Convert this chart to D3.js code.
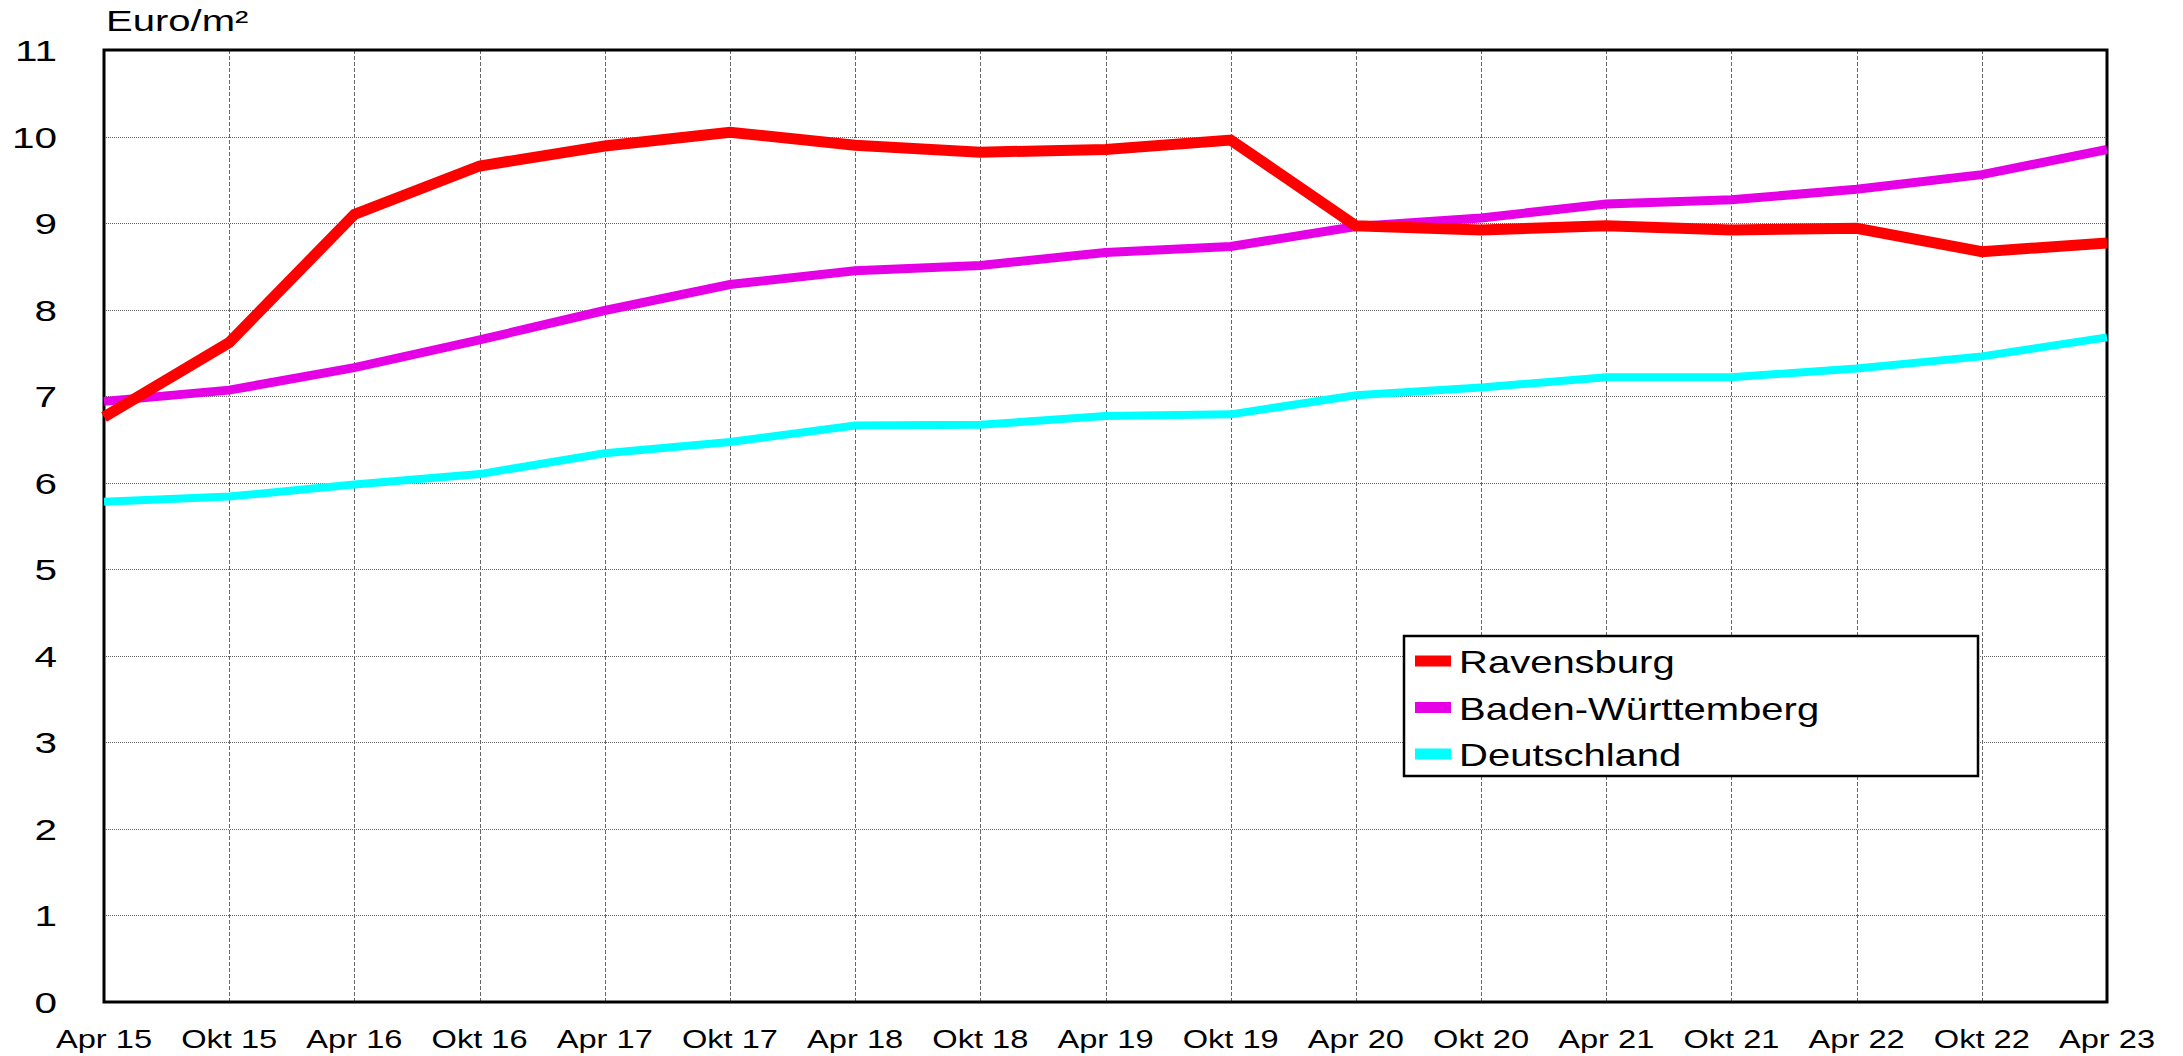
<!DOCTYPE html>
<html>
<head>
<meta charset="utf-8">
<script src="https://cdn.jsdelivr.net/npm/d3@7"></script>
<style>
  body { margin: 0; background: #fff; }
  svg { display: block; font-family: "Liberation Sans", Arial, sans-serif; }
</style>
</head>
<body>
<svg id="chart" width="2183" height="1056"></svg>
<script>
(function() {

    // labels along the x axis (half-year steps)
    var periods = ['Apr 15', 'Okt 15', 'Apr 16', 'Okt 16', 'Apr 17', 'Okt 17', 'Apr 18', 'Okt 18',
                   'Apr 19', 'Okt 19', 'Apr 20', 'Okt 20', 'Apr 21', 'Okt 21', 'Apr 22', 'Okt 22', 'Apr 23'];
    var yTicks = [0, 1, 2, 3, 4, 5, 6, 7, 8, 9, 10, 11];

    var ravensburg = [6.76, 7.62, 9.10, 9.66, 9.89, 10.05, 9.90, 9.82, 9.85, 9.96, 8.97,
                      8.92, 8.97, 8.92, 8.94, 8.67, 8.77];
    var badenWuerttemberg = [6.94, 7.07, 7.33, 7.65, 7.99, 8.29, 8.45, 8.51, 8.66, 8.73, 8.96,
                             9.06, 9.22, 9.27, 9.39, 9.56, 9.85];
    var deutschland = [5.78, 5.84, 5.98, 6.10, 6.34, 6.47, 6.66, 6.67, 6.77, 6.79, 7.01,
                       7.10, 7.22, 7.22, 7.32, 7.46, 7.68];

    var seriesNames = ['Ravensburg', 'Baden-Württemberg', 'Deutschland'];

    var series = [
        { name: seriesNames[0], values: ravensburg, colour: '#ff0000', width: 11 },
        { name: seriesNames[1], values: badenWuerttemberg, colour: '#e600e6', width: 9 },
        { name: seriesNames[2], values: deutschland, colour: '#00ffff', width: 8 }
    ];

    var left = 104, right = 2107, top = 50, bottom = 1002;

    var svg = d3.select('#chart');

    var x = d3.scalePoint()
        .domain(periods)
        .range([left, right]);

    var y = d3.scaleLinear()
        .domain([0, 11])
        .range([bottom, top]);

    // grid
    svg.append('g')
        .attr('shape-rendering', 'crispEdges')
        .selectAll('line')
        .data(yTicks.slice(1, -1))
        .enter().append('line')
        .attr('x1', left).attr('x2', right)
        .attr('y1', function(d) { return Math.round(y(d)) + 0.5; })
        .attr('y2', function(d) { return Math.round(y(d)) + 0.5; })
        .attr('stroke', '#666')
        .attr('stroke-width', 1)
        .attr('stroke-dasharray', '1,1');

    svg.append('g')
        .attr('shape-rendering', 'crispEdges')
        .selectAll('line')
        .data(periods.slice(1, -1))
        .enter().append('line')
        .attr('x1', function(d) { return Math.round(x(d)) + 0.5; })
        .attr('x2', function(d) { return Math.round(x(d)) + 0.5; })
        .attr('y1', top).attr('y2', bottom)
        .attr('stroke', '#666')
        .attr('stroke-width', 1)
        .attr('stroke-dasharray', '4,2');

    // frame
    svg.append('rect')
        .attr('x', left).attr('y', top)
        .attr('width', right - left).attr('height', bottom - top)
        .attr('fill', 'none')
        .attr('stroke', '#000')
        .attr('stroke-width', 3);

    // y tick labels (stretched horizontally like the original)
    svg.append('g')
        .selectAll('text')
        .data(yTicks)
        .enter().append('text')
        .attr('transform', function(d) { return 'translate(57,' + (y(d) + 11) + ') scale(1.35,1)'; })
        .attr('text-anchor', 'end')
        .attr('font-size', 30)
        .text(function(d) { return d; });

    // x tick labels
    svg.append('g')
        .selectAll('text')
        .data(periods)
        .enter().append('text')
        .attr('transform', function(d) { return 'translate(' + x(d) + ',1048) scale(1.28,1)'; })
        .attr('text-anchor', 'middle')
        .attr('font-size', 25.5)
        .text(function(d) { return d; });

    // unit
    svg.append('text')
        .attr('transform', 'translate(106,31) scale(1.38,1)')
        .attr('font-size', 29)
        .text('Euro/m²');

    // lines
    var line = d3.line()
        .x(function(d, i) { return x(periods[i]); })
        .y(function(d) { return y(d); });

    svg.append('g')
        .selectAll('path')
        .data(series.slice().reverse())
        .enter().append('path')
        .attr('d', function(d) { return line(d.values); })
        .attr('fill', 'none')
        .attr('stroke', function(d) { return d.colour; })
        .attr('stroke-width', function(d) { return d.width; })
        .attr('stroke-linejoin', 'miter');

    // legend
    var legend = svg.append('g');
    legend.append('rect')
        .attr('x', 1404).attr('y', 636)
        .attr('width', 574).attr('height', 140)
        .attr('fill', '#fff')
        .attr('stroke', '#000')
        .attr('stroke-width', 2.5);

    var items = legend.selectAll('g.item')
        .data(series)
        .enter().append('g')
        .attr('class', 'item')
        .attr('transform', function(d, i) { return 'translate(1415,' + (661 + i * 46.5) + ')'; });

    items.append('rect')
        .attr('x', 0).attr('y', -5.5)
        .attr('width', 36).attr('height', 11)
        .attr('fill', function(d) { return d.colour; });

    items.append('text')
        .attr('transform', 'translate(44,12) scale(1.27,1)')
        .attr('font-size', 31.5)
        .text(function(d) { return d.name; });
})();
</script>
</body>
</html>
